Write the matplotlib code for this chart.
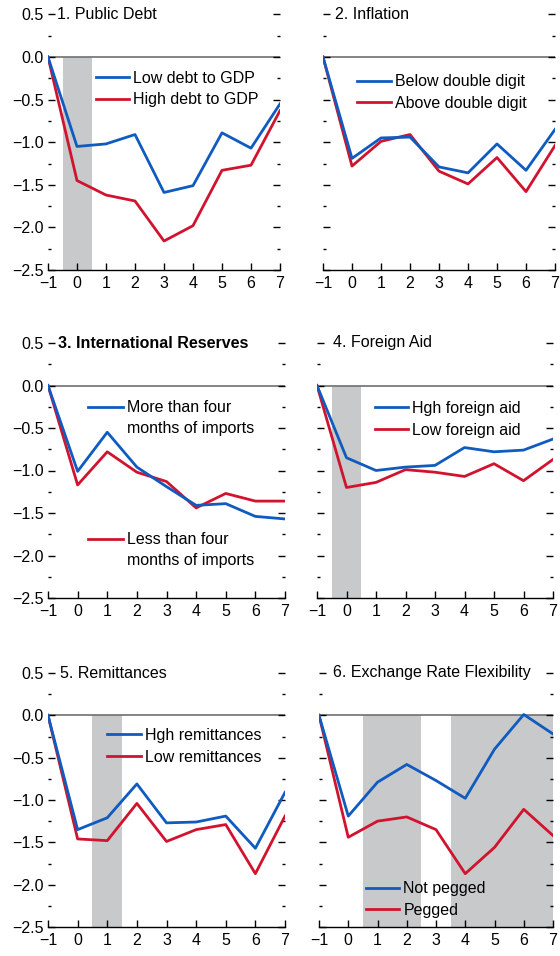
import matplotlib
matplotlib.use("Agg")
import matplotlib.pyplot as plt
from matplotlib.lines import Line2D

plt.rcParams['font.family'] = ['Liberation Sans', 'DejaVu Sans']

years = [-1, 0, 1, 2, 3, 4, 5, 6, 7]

debt_low = [0, -1.05, -1.02, -0.91, -1.59, -1.51, -0.89, -1.07, -0.55]
debt_high = [0, -1.45, -1.62, -1.69, -2.16, -1.98, -1.33, -1.27, -0.63]

infl_below = [0, -1.19, -0.95, -0.94, -1.29, -1.36, -1.02, -1.33, -0.85]
infl_above = [0, -1.28, -0.99, -0.91, -1.34, -1.49, -1.18, -1.58, -1.04]

res_more = [0, -1.01, -0.55, -0.96, -1.19, -1.41, -1.39, -1.54, -1.57]
res_less = [0, -1.17, -0.78, -1.02, -1.13, -1.44, -1.27, -1.36, -1.36]

aid_high = [0, -0.85, -1.00, -0.96, -0.94, -0.73, -0.78, -0.76, -0.63]
aid_low = [0, -1.20, -1.14, -0.99, -1.02, -1.07, -0.92, -1.12, -0.87]

rem_high = [0, -1.35, -1.21, -0.81, -1.27, -1.26, -1.19, -1.57, -0.91]
rem_low = [0, -1.46, -1.48, -1.04, -1.49, -1.35, -1.29, -1.87, -1.19]

fx_not = [0, -1.19, -0.79, -0.58, -0.77, -0.98, -0.40, 0.01, -0.22]
fx_peg = [0, -1.44, -1.25, -1.20, -1.35, -1.87, -1.56, -1.11, -1.42]

titles = ["1. Public Debt", "2. Inflation", "3. International Reserves",
          "4. Foreign Aid", "5. Remittances", "6. Exchange Rate Flexibility"]
labels = [("Low debt to GDP", "High debt to GDP"),
          ("Below double digit", "Above double digit"),
          (["More than four", "months of imports"], ["Less than four", "months of imports"]),
          ("Hgh foreign aid", "Low foreign aid"),
          ("Hgh remittances", "Low remittances"),
          ("Not pegged", "Pegged")]
series = [(debt_low, debt_high), (infl_below, infl_above), (res_more, res_less),
          (aid_high, aid_low), (rem_high, rem_low), (fx_not, fx_peg)]
shades = [[(-0.5, 0.5)], [], [], [(-0.5, 0.5)], [(0.5, 1.5)], [(0.5, 2.5), (3.5, 7)]]

BLUE = "#0f5bbf"
RED = "#d2132e"
SHADE = "#c8c9cb"
FS = 11.5

W = 560; H = 956
fig = plt.figure(figsize=(W / 100, H / 100), dpi=100)

xext = [(48, 280), (323, 555), (48, 285), (317, 553), (48, 285), (319, 553)]
rows = [(14.4, 270), (343, 598), (673, 927)]
title_off = [9, 12, 10, 16, 12, 14]

leg_pos = [(0.205, 0.78), (0.147, 0.766), None, (0.245, 0.773), (0.25, 0.784), (0.2, 0.18)]

for i in range(6):
    r, c = divmod(i, 2)
    x0, x1 = xext[i]
    y0, y1 = rows[r]
    ax = fig.add_axes([x0 / W, 1 - y1 / H, (x1 - x0) / W, (y1 - y0) / H])
    ax.set_xlim(-1, 7)
    ax.set_ylim(-2.5, 0.5)
    for a, b in shades[i]:
        ax.fill_between([a, b], -2.5, 0, color=SHADE, lw=0, zorder=0)
    ax.axhline(0, color="#707070", lw=1.2, zorder=1)
    s1, s2 = series[i]
    l1, = ax.plot(years, s1, color=BLUE, lw=2, zorder=3)
    l2, = ax.plot(years, s2, color=RED, lw=2, zorder=2)

    for sp in ["top", "left", "right"]:
        ax.spines[sp].set_visible(False)
    ax.spines["bottom"].set_color("black")
    ax.spines["bottom"].set_linewidth(1.0)
    ax.set_xticks(years)
    ax.set_yticks([0.5, 0.0, -0.5, -1.0, -1.5, -2.0, -2.5])
    ax.set_yticks([0.25, -0.25, -0.75, -1.25, -1.75, -2.25], minor=True)
    ax.set_xticklabels(["\u22121" if v == -1 else str(v) for v in years], fontsize=FS)
    if c == 0:
        ax.set_yticklabels(["0.5", "0.0", "\u22120.5", "\u22121.0", "\u22121.5", "\u22122.0", "\u22122.5"], fontsize=FS)
    else:
        ax.set_yticklabels([])
    ax.tick_params(axis="x", direction="in", length=5, width=1, pad=4)
    ax.tick_params(axis="y", which="both", direction="in", left=True, right=True,
                   length=5, width=1, pad=3, color="black")
    ax.tick_params(axis="y", which="minor", length=2)

    ax.text(title_off[i] / (x1 - x0), 1.0, titles[i], transform=ax.transAxes, fontsize=FS,
            va="center", ha="left", fontweight="bold" if i == 2 else "normal")

    if i == 2:
        hh = y1 - y0
        ww = x1 - x0
        for col, lines, ypix in [(BLUE, labels[i][0], 407), (RED, labels[i][1], 539)]:
            yf = (y1 - ypix) / hh
            ax.add_line(Line2D([(88 - x0) / ww, (123 - x0) / ww], [yf, yf], color=col, lw=2,
                               transform=ax.transAxes))
            ax.text((127 - x0) / ww, yf, lines[0], transform=ax.transAxes, fontsize=FS,
                    va="center", ha="left")
            ax.text((127 - x0) / ww, yf - 21.5 / hh, lines[1], transform=ax.transAxes, fontsize=FS,
                    va="center", ha="left")
    else:
        ax.legend([l1, l2], list(labels[i]), loc="upper left", bbox_to_anchor=leg_pos[i],
                  frameon=False, fontsize=FS, handlelength=2.1, handletextpad=0.25,
                  labelspacing=0.42, borderpad=0, borderaxespad=0)

fig.savefig("out.png", dpi=100)
